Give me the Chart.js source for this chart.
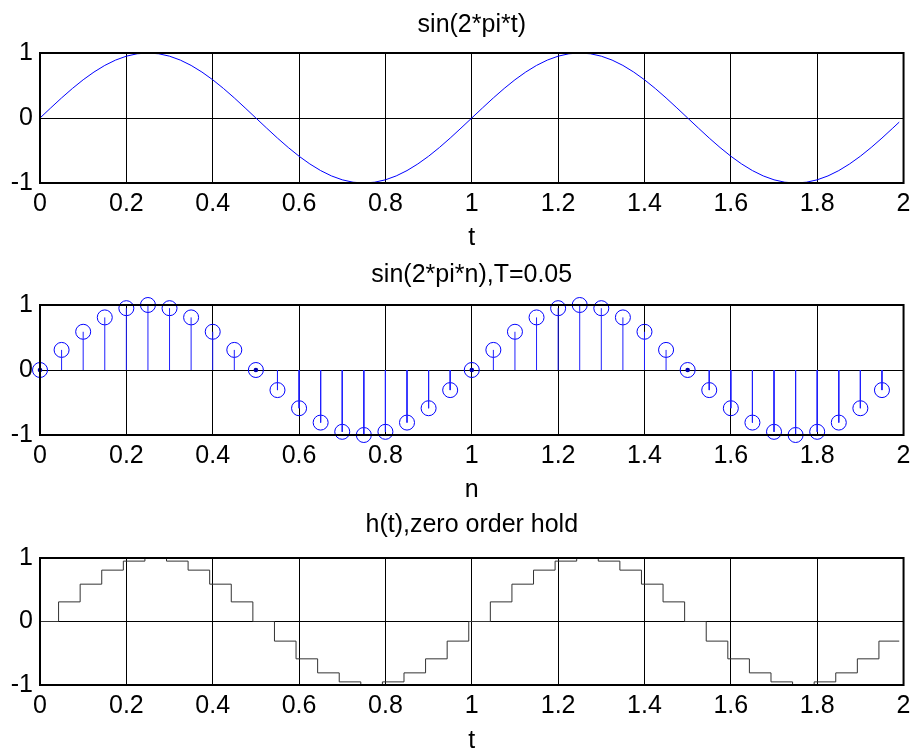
<!DOCTYPE html>
<html><head><meta charset="utf-8">
<script src="https://cdn.jsdelivr.net/npm/chart.js@4.4.1/dist/chart.umd.min.js"></script>
<style>
html,body{margin:0;padding:0;background:#fff;overflow:hidden;width:917px;height:749px;position:relative;}
canvas{position:absolute;left:0;}
</style></head><body>
<canvas id="c1" width="917" height="270" style="top:0px"></canvas>
<canvas id="c2" width="917" height="270" style="top:250px"></canvas>
<canvas id="c3" width="917" height="270" style="top:500px"></canvas>
<script>
// ---- data ----
const sineT = [0,0.025,0.05,0.075,0.1,0.125,0.15,0.175,0.2,0.225,0.25,0.275,0.3,0.325,0.35,0.375,0.4,0.425,0.45,0.475,
  0.5,0.525,0.55,0.575,0.6,0.625,0.65,0.675,0.7,0.725,0.75,0.775,0.8,0.825,0.85,0.875,0.9,0.925,0.95,0.975,
  1,1.025,1.05,1.075,1.1,1.125,1.15,1.175,1.2,1.225,1.25,1.275,1.3,1.325,1.35,1.375,1.4,1.425,1.45,1.475,
  1.5,1.525,1.55,1.575,1.6,1.625,1.65,1.675,1.7,1.725,1.75,1.775,1.8,1.825,1.85,1.875,1.9,1.925,1.95,1.975,1.99];
const sineV = [0,0.156,0.309,0.454,0.588,0.707,0.809,0.891,0.951,0.988,1,0.988,0.951,0.891,0.809,0.707,0.588,0.454,0.309,0.156,
  0,-0.156,-0.309,-0.454,-0.588,-0.707,-0.809,-0.891,-0.951,-0.988,-1,-0.988,-0.951,-0.891,-0.809,-0.707,-0.588,-0.454,-0.309,-0.156,
  0,0.156,0.309,0.454,0.588,0.707,0.809,0.891,0.951,0.988,1,0.988,0.951,0.891,0.809,0.707,0.588,0.454,0.309,0.156,
  0,-0.156,-0.309,-0.454,-0.588,-0.707,-0.809,-0.891,-0.951,-0.988,-1,-0.988,-0.951,-0.891,-0.809,-0.707,-0.588,-0.454,-0.309,-0.156,-0.063];
const stemN = [0,0.05,0.1,0.15,0.2,0.25,0.3,0.35,0.4,0.45,0.5,0.55,0.6,0.65,0.7,0.75,0.8,0.85,0.9,0.95,
  1,1.05,1.1,1.15,1.2,1.25,1.3,1.35,1.4,1.45,1.5,1.55,1.6,1.65,1.7,1.75,1.8,1.85,1.9,1.95];
const stemV = [0,0.309,0.588,0.809,0.951,1,0.951,0.809,0.588,0.309,0,-0.309,-0.588,-0.809,-0.951,-1,-0.951,-0.809,-0.588,-0.309,
  0,0.309,0.588,0.809,0.951,1,0.951,0.809,0.588,0.309,0,-0.309,-0.588,-0.809,-0.951,-1,-0.951,-0.809,-0.588,-0.309];
const holdT = [0,0.043,0.093,0.143,0.193,0.243,0.293,0.343,0.393,0.443,0.493,0.543,0.593,0.643,0.693,0.743,0.793,0.843,0.893,0.943,
  0.993,1.043,1.093,1.143,1.193,1.243,1.293,1.343,1.393,1.443,1.493,1.543,1.593,1.643,1.693,1.743,1.793,1.843,1.893,1.943,1.99];
const holdV = [0,0.309,0.588,0.809,0.951,1,0.951,0.809,0.588,0.309,0,-0.309,-0.588,-0.809,-0.951,-1,-0.951,-0.809,-0.588,-0.309,
  0,0.309,0.588,0.809,0.951,1,0.951,0.809,0.588,0.309,0,-0.309,-0.588,-0.809,-0.951,-1,-0.951,-0.809,-0.588,-0.309,-0.309];
const xTicks = [0,0.2,0.4,0.6,0.8,1,1.2,1.4,1.6,1.8,2];
const yTicks = [-1,0,1];
const titles = ['sin(2*pi*t)','sin(2*pi*n),T=0.05','h(t),zero order hold'];
const xLabels = ['t','n','t'];

// ---- drawing ----
const FS = 25;
Chart.defaults.font.family = "'Liberation Sans', Arial, sans-serif";
Chart.defaults.font.size = FS;
Chart.defaults.color = '#000';

const framePlugin = {
  id: 'frame',
  afterDatasetsDraw(chart) {
    const {ctx, chartArea: {left, top, right, bottom}} = chart;
    ctx.save();
    ctx.strokeStyle = '#000';
    ctx.lineWidth = 2;
    ctx.strokeRect(left, top, right - left, bottom - top);
    ctx.restore();
  }
};

function makeChart(id, cfg) {
  return new Chart(document.getElementById(id), {
    type: 'scatter',
    data: {datasets: cfg.datasets},
    options: {
      responsive: false, animation: false, events: [],
      layout: {padding: {left: 0, right: 10, top: 0, bottom: 0}},
      plugins: {
        legend: {display: false}, tooltip: {enabled: false},
        title: {display: true, fullSize: false, text: cfg.title, color: '#000',
          font: {size: FS, weight: 'normal'}, padding: {top: cfg.tpt, bottom: cfg.tpb}}
      },
      scales: {
        x: {
          type: 'linear', min: 0, max: 2, offset: false,
          afterBuildTicks: s => { s.ticks = xTicks.map(v => ({value: v})); },
          afterFit: s => { s.height = cfg.xh; },
          ticks: {padding: 6.5, color: '#000', font: {size: FS}, callback: v => String(v), maxRotation: 0, autoSkip: false},
          grid: {color: '#000', lineWidth: 1, drawTicks: false},
          border: {display: false},
          title: {display: true, text: cfg.xlabel, color: '#000', font: {size: FS}, padding: {top: 0, bottom: cfg.xpb}}
        },
        y: {
          type: 'linear', min: -1, max: 1,
          afterBuildTicks: s => { s.ticks = yTicks.map(v => ({value: v})); },
          afterFit: s => { s.width = 40; },
          ticks: {padding: 7, color: '#000', font: {size: FS}, callback: v => String(v)},
          grid: {color: '#000', lineWidth: 1, drawTicks: false},
          border: {display: false}
        }
      }
    },
    plugins: [framePlugin]
  });
}

// subplot 1: continuous sine
makeChart('c1', {
  title: titles[0], xlabel: xLabels[0], tpt: 10.3, tpb: 12.7, xh: 87, xpb: 17,
  datasets: [{
    type: 'line', data: sineT.map((t, i) => ({x: t, y: sineV[i]})),
    borderColor: '#0000ff', borderWidth: 1, pointRadius: 0, tension: 0
  }]
});

// subplot 2: stem plot
const stemSegs = [];
stemN.forEach((n, i) => { stemSegs.push({x: n, y: 0}, {x: n, y: stemV[i]}, {x: n, y: null}); });
makeChart('c2', {
  title: titles[1], xlabel: xLabels[1], tpt: 9.7, tpb: 15.3, xh: 85, xpb: 15,
  datasets: [
    {type: 'line', data: stemSegs, borderColor: '#2020ff', borderWidth: 1, pointRadius: 0, spanGaps: false, tension: 0},
    {type: 'scatter', data: stemN.map((n, i) => ({x: n, y: stemV[i]})), pointRadius: 7.5,
      pointBorderColor: '#0000ff', pointBackgroundColor: 'rgba(0,0,0,0)', pointBorderWidth: 1, clip: false},
    {type: 'scatter', data: stemN.map((n, i) => ({x: n, y: stemV[i]})).filter(p => p.y === 0), pointRadius: 2.3,
      pointBorderColor: '#0000b0', pointBackgroundColor: '#0000b0', pointBorderWidth: 0, clip: false}
  ]
});

// subplot 3: zero order hold
makeChart('c3', {
  title: titles[2], xlabel: xLabels[2], tpt: 10.5, tpb: 17.5, xh: 85, xpb: 14,
  datasets: [{
    type: 'line', data: holdT.map((t, i) => ({x: t, y: holdV[i]})), stepped: 'before',
    borderColor: '#333333', borderWidth: 1, pointRadius: 0
  }]
});
</script>
</body></html>
